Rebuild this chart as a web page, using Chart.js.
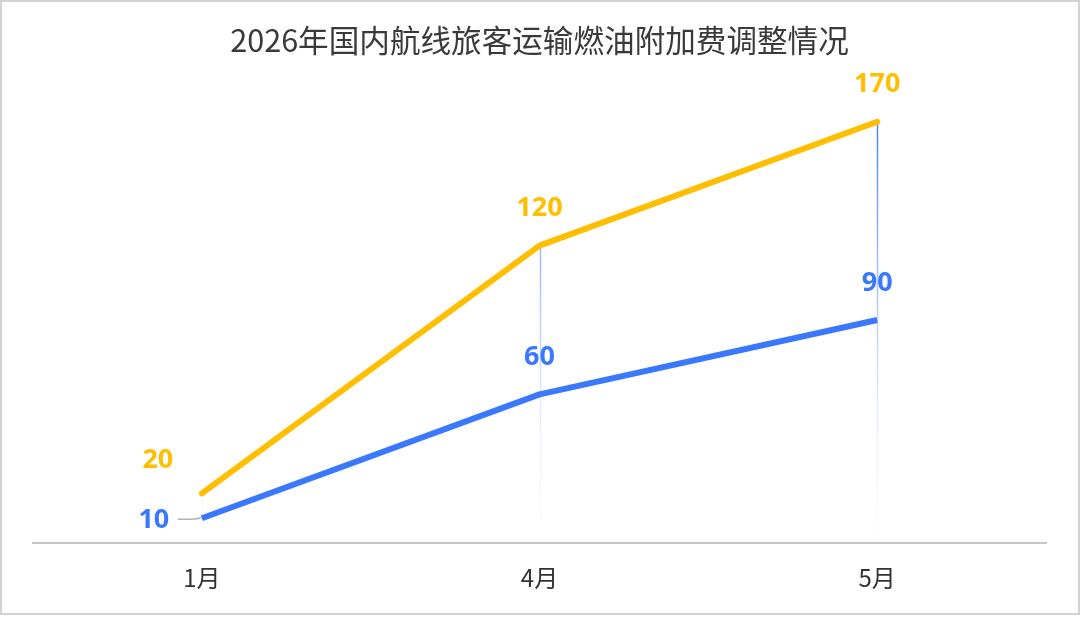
<!DOCTYPE html>
<html>
<head>
<meta charset="utf-8">
<script src="https://cdn.jsdelivr.net/npm/chart.js@4"></script>
<style>
  html, body { margin: 0; padding: 0; background: #fff; }
  #wrap { position: relative; width: 1080px; height: 633px; }
  #c { position: absolute; left: 0; top: 0; }
  #frame { position: absolute; left: 0; top: 0; width: 1080px; height: 615px; box-sizing: border-box; border: 2px solid #d2d2d2; pointer-events: none; }
</style>
</head>
<body>
<div id="wrap">
  <canvas id="c" width="1080" height="633"></canvas>
  <div id="frame"></div>
</div>
<script>
const titleText = '2026年国内航线旅客运输燃油附加费调整情况';
const categories = ['1月', '4月', '5月'];
const seriesHigh = [20, 120, 170];
const seriesLow = [10, 60, 90];
const yellow = '#FFBE00';
const blue = '#3A78FF';

const dropLines = {
  id: 'dropLines',
  beforeDatasetsDraw(chart) {
    const { ctx, chartArea } = chart;
    const metas = chart.data.datasets.map((d, i) => chart.getDatasetMeta(i));
    const grad = ctx.createLinearGradient(0, chartArea.top, 0, chartArea.bottom);
    grad.addColorStop(0, 'rgba(58,120,255,1)');
    grad.addColorStop(0.35, 'rgba(58,120,255,0.5)');
    grad.addColorStop(0.7, 'rgba(58,120,255,0.14)');
    grad.addColorStop(1, 'rgba(58,120,255,0)');
    ctx.save();
    ctx.strokeStyle = grad;
    ctx.lineWidth = 1.5;
    for (let i = 0; i < categories.length; i++) {
      let top = Infinity, x = 0;
      metas.forEach(m => { const p = m.data[i]; if (p.y < top) { top = p.y; x = p.x; } });
      ctx.beginPath();
      ctx.moveTo(Math.round(x) + 0.5, top);
      ctx.lineTo(Math.round(x) + 0.5, chartArea.bottom);
      ctx.stroke();
    }
    ctx.restore();
  }
};

const valueLabels = {
  id: 'valueLabels',
  afterDatasetsDraw(chart) {
    const { ctx } = chart;
    ctx.save();
    ctx.font = 'bold 27px "Noto Sans", "Open Sans", sans-serif';
    ctx.textAlign = 'center';
    ctx.textBaseline = 'middle';
    chart.data.datasets.forEach((ds, di) => {
      const meta = chart.getDatasetMeta(di);
      meta.data.forEach((p, i) => {
        const v = ds.data[i];
        ctx.fillStyle = ds.borderColor;
        if (i === 0) {
          if (di === 0) {
            ctx.fillText(String(v), p.x - 44, p.y - 33);
          } else {
            ctx.fillText(String(v), p.x - 48, p.y + 2);
            ctx.strokeStyle = '#b0b0b0';
            ctx.lineWidth = 1.5;
            ctx.beginPath();
            ctx.moveTo(p.x - 24, p.y + 1);
            ctx.quadraticCurveTo(p.x - 6, p.y + 1.5, p.x - 1, p.y - 0.5);
            ctx.stroke();
          }
        } else {
          ctx.fillText(String(v), p.x, p.y - 37);
        }
      });
    });
    ctx.restore();
  }
};

new Chart(document.getElementById('c'), {
  type: 'line',
  data: {
    labels: categories,
    datasets: [
      { label: '高', data: seriesHigh, borderColor: yellow, backgroundColor: yellow, borderWidth: 6, pointRadius: 0, tension: 0, borderCapStyle: 'round', borderJoinStyle: 'round' },
      { label: '低', data: seriesLow, borderColor: blue, backgroundColor: blue, borderWidth: 6, pointRadius: 0, tension: 0, borderCapStyle: 'butt', borderJoinStyle: 'round' }
    ]
  },
  options: {
    responsive: false,
    animation: false,
    devicePixelRatio: 1,
    layout: { padding: { left: 33, right: 34, top: 0, bottom: 21.2 } },
    plugins: {
      legend: { display: false },
      tooltip: { enabled: false },
      title: {
        display: true,
        text: titleText,
        color: '#3a3a3a',
        font: { family: '"Noto Sans CJK SC", "Noto Sans", sans-serif', size: 30.6, weight: 'normal', lineHeight: 1.2 },
        padding: { top: 21.6, bottom: 38.7 }
      }
    },
    scales: {
      x: {
        offset: true,
        grid: { display: false, drawTicks: false },
        border: { display: true, color: '#c6c6c6', width: 2 },
        ticks: { color: '#333', padding: 20, font: { family: '"Noto Sans CJK SC", sans-serif', size: 24, lineHeight: 1.2 } }
      },
      y: { display: false, min: 0, max: 180 }
    }
  },
  plugins: [dropLines, valueLabels]
});
</script>
</body>
</html>
